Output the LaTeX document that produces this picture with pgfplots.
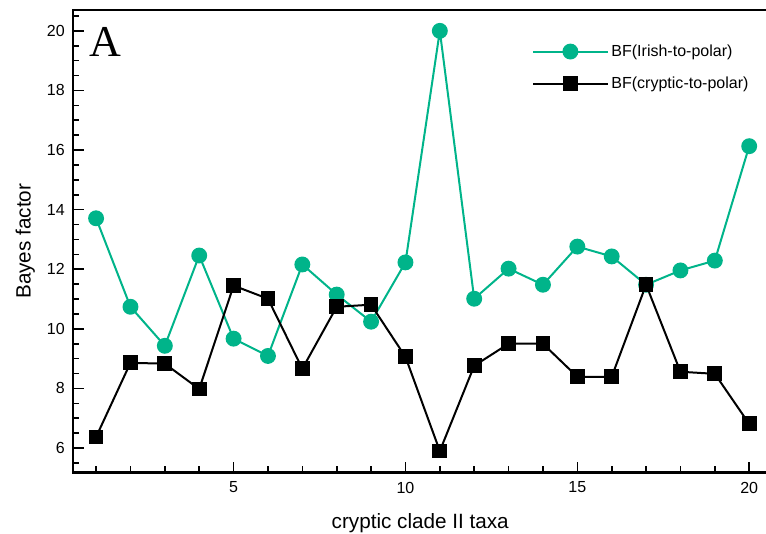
\documentclass[border=0pt]{standalone}
\usepackage{fontspec}
\setmainfont{Liberation Sans}
\newfontfamily\serifA{Liberation Serif}
\usepackage{pgfplots}
\pgfplotsset{compat=1.18}
\definecolor{irish}{RGB}{0,180,138}

\begin{document}
\begin{tikzpicture}
  \begin{axis}[name=ax, scale only axis, width=519.75pt, height=346.5pt,
      xmin=0.34, xmax=20.52, ymin=5.18, ymax=20.7,
      axis line style={line width=1.6pt}, tick style={line width=1.2pt, black},
      tick align=inside, major tick length=8pt, minor tick length=4.5pt,
      xtick={5,10,15,20}, minor xtick={1,...,20},
      ytick={6,8,...,20}, minor ytick={5.5,6,...,20.5},
      xtick pos=bottom, ytick pos=left,
      tick label style={font=\fontsize{12}{14}\selectfont},
      xticklabel style={yshift=-3.5pt},
      yticklabel style={xshift=-3pt},
      /pgf/number format/assume math mode=true,
      xlabel={cryptic clade II taxa}, ylabel={Bayes factor},
      label style={font=\fontsize{15.5}{18}\selectfont},
      x label style={at={(axis description cs:0.5,-0.11)}, anchor=center},
      y label style={at={(axis description cs:-0.0695,0.5)}, anchor=center},
      legend style={draw=none, fill=none, at={(axis description cs:0.655,0.937)}, anchor=north west,
        font=\fontsize{12}{14}\selectfont, row sep=10pt, cells={anchor=west}},
      legend image code/.code={\draw[mark repeat=2,mark phase=2,#1] plot coordinates {(0pt,0pt) (28pt,0pt) (56pt,0pt)};},
    ]
    \addplot[irish, line width=1.5pt, mark=*, mark size=5.2pt, mark options={solid, fill=irish}] coordinates {
      (1,13.71)(2,10.74)(3,9.43)(4,12.46)(5,9.67)(6,9.09)(7,12.16)(8,11.15)(9,10.24)(10,12.23)
      (11,20.0)(12,11.01)(13,12.02)(14,11.48)(15,12.76)(16,12.43)(17,11.48)(18,11.96)(19,12.29)(20,16.13)};
    \addlegendentry{BF(Irish-to-polar)}
    \addplot[black, line width=1.5pt, mark=square*, mark size=4.8pt, mark options={solid, fill=black}] coordinates {
      (1,6.37)(2,8.86)(3,8.83)(4,7.98)(5,11.45)(6,11.01)(7,8.66)(8,10.74)(9,10.81)(10,9.06)
      (11,5.90)(12,8.76)(13,9.50)(14,9.50)(15,8.39)(16,8.39)(17,11.48)(18,8.56)(19,8.49)(20,6.81)};
    \addlegendentry{BF(cryptic-to-polar)}
    \node[anchor=north west, inner sep=0pt, font=\serifA\fontsize{33}{36}\selectfont] at (axis description cs:0.023,0.9626) {A};
  \end{axis}
  \pgfresetboundingbox
  \path ([shift={(-55pt,-46pt)}]ax.south west) rectangle ([shift={(-0.8pt,7.5pt)}]ax.north east);
\end{tikzpicture}
\end{document}
